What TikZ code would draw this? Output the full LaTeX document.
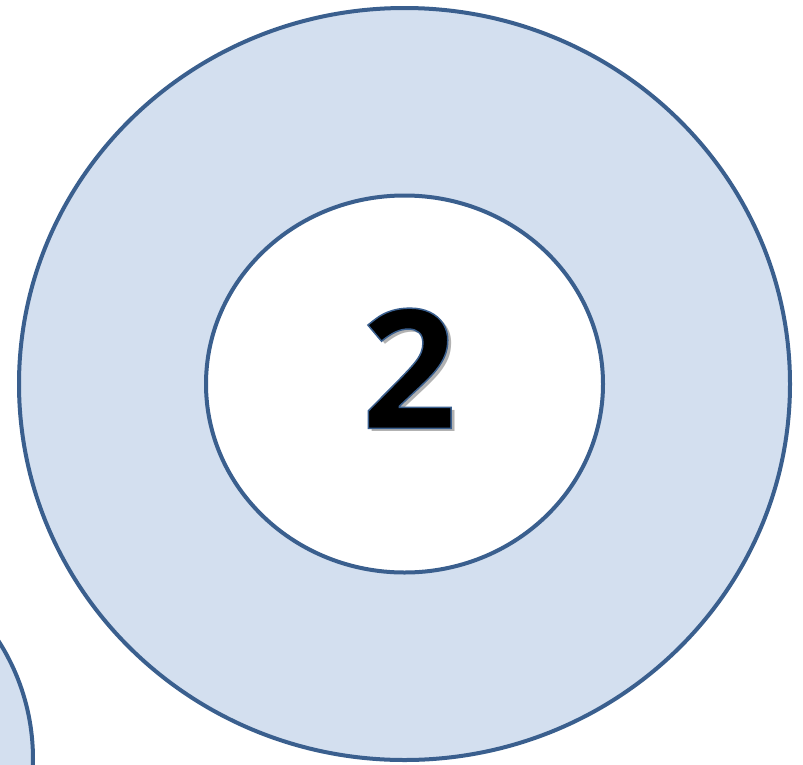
\documentclass[tikz,border=0pt]{standalone}
\usepackage{fontspec}
\setmainfont{Open Sans}
\usetikzlibrary{shapes.geometric}
\definecolor{ringline}{HTML}{3A5F8E}
\definecolor{ringfill}{HTML}{D3DFEF}
% fill the glyph and stroke it thinly in the ring colour
\newcommand{\outlined}[1]{%
  \special{pdf:code q 2 Tr 1.5 w 0.227 0.373 0.557 RG}#1\special{pdf:code Q}}
% soft grey shadow set behind the glyph
\newcommand{\shadowed}[1]{%
  \makebox[0pt][l]{\hspace{3.5pt}\raisebox{-3.5pt}{\color{black!30}#1}}\outlined{#1}}
\begin{document}
\begin{tikzpicture}[
          x=1pt, y=1pt,
          ring/.style={
            ellipse, draw=ringline, line width=4pt, fill=ringfill,
            inner sep=0pt, anchor=center
          },
          hole/.style={ring, fill=white},
          digit/.style={
            font=\fontsize{166}{166}\selectfont\bfseries,
            inner sep=0pt, anchor=center
          },
        ]
          \useasboundingbox (0,0) rectangle (803,-764);
          \def\cx{404.5}
          \def\cy{-384}

          % Neighbouring ring, bottom left
          \node[ring, minimum width=438pt, minimum height=438pt] (nbr) at (-186,-759) {};

          % Outer ring and its hole
          \node[ring, minimum width=771pt, minimum height=752pt] (outer) at (\cx,\cy) {};
          \node[hole, minimum width=397pt, minimum height=377pt] (inner) at (\cx,\cy) {};

          % Number
          \node[digit] (num) at (409,-370) {\shadowed{2}};
        \end{tikzpicture}
\end{document}
